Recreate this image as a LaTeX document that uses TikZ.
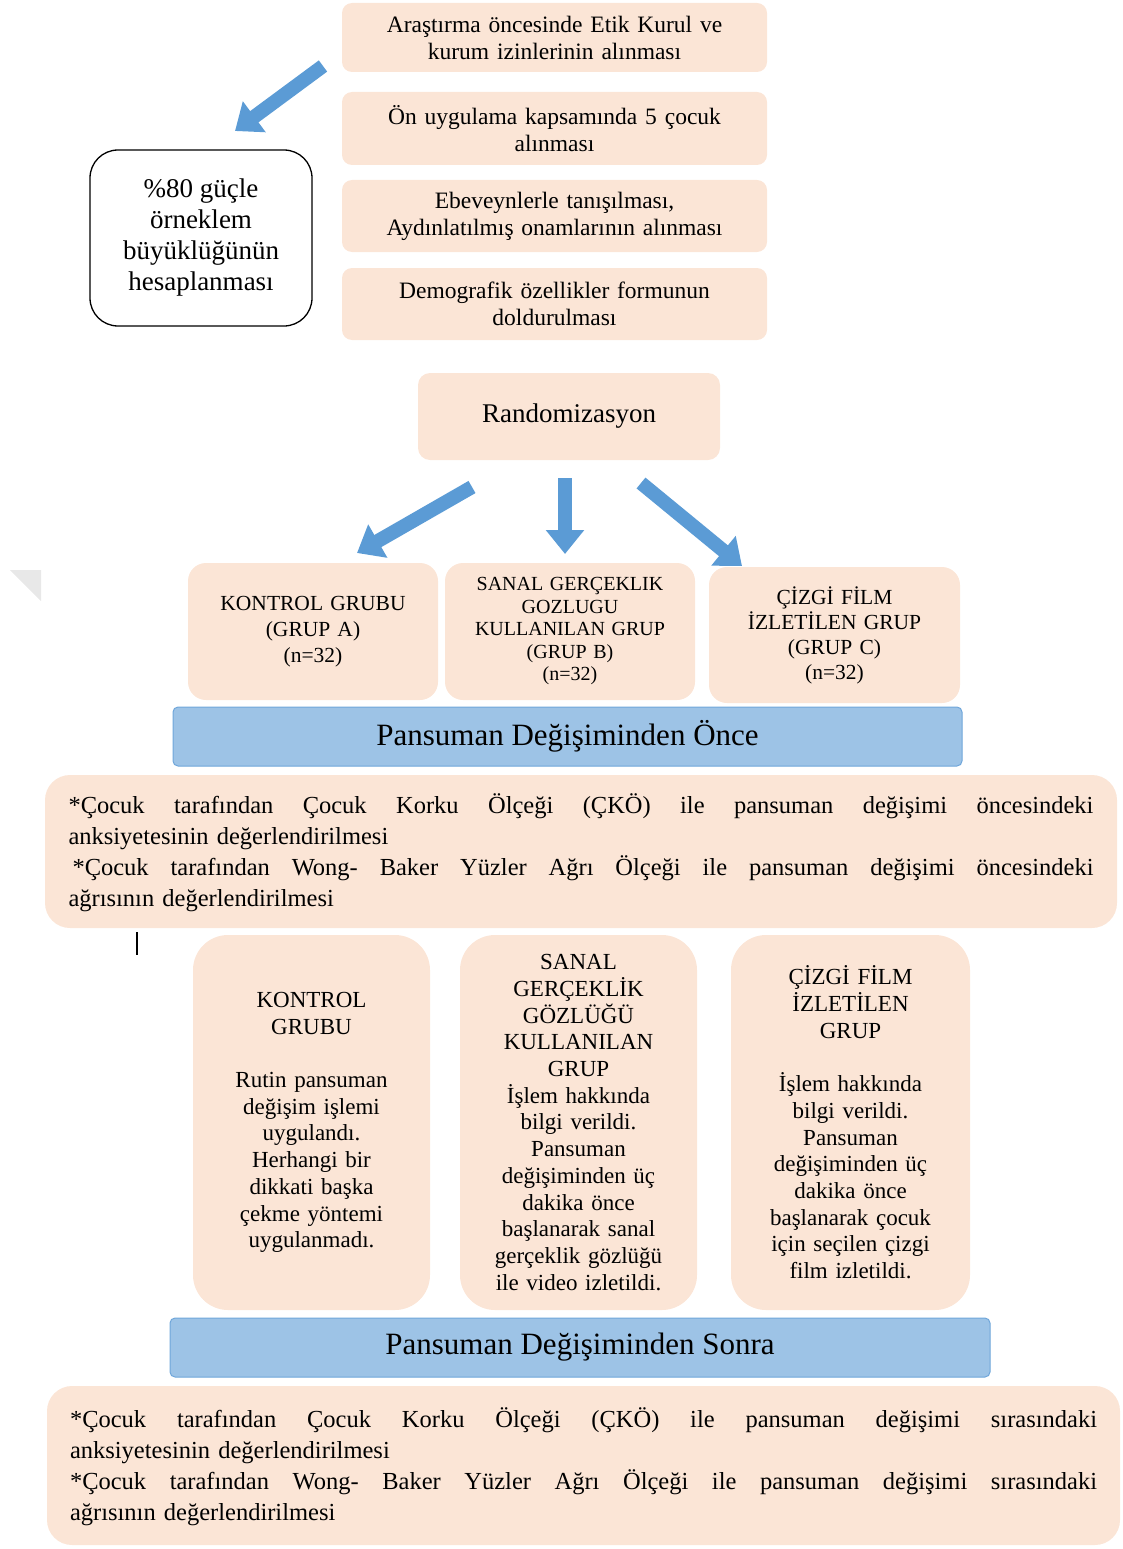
\documentclass[tikz,border=0pt]{standalone}
\usepackage{fontspec}
\setmainfont{Liberation Serif}
\usetikzlibrary{arrows.meta}
\definecolor{peach}{HTML}{FBE5D6}
\definecolor{arrowblue}{HTML}{5B9BD5}
\definecolor{barblue}{HTML}{9DC3E6}
\definecolor{barline}{HTML}{6FA6DA}
\newcommand\myfs[2]{\fontsize{#1}{#2}\selectfont}
\newcommand\fullline[2]{\makebox[#1][s]{\spaceskip=0pt\xspaceskip=0pt\relax #2}}
\begin{document}
\begin{tikzpicture}[x=1pt,y=-1pt,
  peachbox/.style={fill=peach, draw=none, align=center, inner sep=0pt},
  stepbox/.style={peachbox, minimum width=425pt, rounded corners=10pt, text width=410pt, font=\myfs{23.5}{27}},
  grpbox/.style={peachbox, minimum height=137pt, rounded corners=18pt, text width=240pt},
  colbox/.style={peachbox, minimum height=375pt, rounded corners=35pt, text width=225pt, font=\myfs{23}{26.7}},
  barbox/.style={fill=barblue, draw=barline, line width=1pt, rounded corners=5pt, minimum height=59pt, inner sep=0pt, font=\myfs{31}{36}},
  bigbox/.style={peachbox, rounded corners=25pt},
  bigtext/.style={align=left, inner sep=0pt, font=\myfs{24.5}{31}},
  bluearrow/.style={draw=arrowblue, line width=14pt, -{Triangle[width=37pt,length=24pt]}},
]
\useasboundingbox (0,0) rectangle (1123,1549);

% top steps
\node[stepbox, minimum height=69pt] (s1) at (554.5,37.5) {Araştırma öncesinde Etik Kurul ve\\kurum izinlerinin alınması};
\node[stepbox, minimum height=73pt] (s2) at (554.5,128.5) {Ön uygulama kapsamında 5 çocuk\\alınması};
\node[stepbox, minimum height=72pt] (s3) at (554.5,216) {Ebeveynlerle tanışılması,\\Aydınlatılmış onamlarının alınması};
\node[stepbox, minimum height=72pt] (s4) at (554.5,304) {Demografik özellikler formunun\\doldurulması};

% sample size box
\node[draw=black, line width=1.3pt, fill=white, rounded corners=28pt, minimum width=222pt, minimum height=176pt,
      align=center, inner sep=0pt, font=\myfs{27}{31}] (power) at (201,238)
      {\%80 güçle\\örneklem\\büyüklüğünün\\hesaplanması};

\coordinate (a0t) at (323,66);
\coordinate (a0h) at (235,131);
\draw[bluearrow] (a0t) -- (a0h);

% randomization
\node[peachbox, minimum width=302pt, minimum height=87pt, rounded corners=12pt, font=\myfs{27}{31}] (rand) at (569,416.5) {Randomizasyon};

\coordinate (a1t) at (472,487);
\coordinate (a1h) at (357,553);
\coordinate (a2t) at (565,478);
\coordinate (a2h) at (565,554);
\coordinate (a3t) at (641,483);
\coordinate (a3h) at (742,566);
\draw[bluearrow] (a1t) -- (a1h);
\draw[bluearrow] (a2t) -- (a2h);
\draw[bluearrow] (a3t) -- (a3h);

% groups
\node[grpbox, minimum width=250pt, font=\myfs{21.5}{26}] (ga) at (313,631.5) {\raisebox{-3pt}{\parbox{240pt}{\centering KONTROL GRUBU\\(GRUP A)\\(n=32)}}};
\node[grpbox, minimum width=250pt, font=\myfs{20}{22.5}] (gb) at (570,631.5) {SANAL GERÇEKLIK\\GOZLUGU\\KULLANILAN GRUP\\(GRUP B)\\(n=32)};
\node[grpbox, minimum width=251pt, minimum height=136pt, font=\myfs{21.5}{25}] (gc) at (834.5,635) {ÇİZGİ FİLM\\İZLETİLEN GRUP\\(GRUP C)\\(n=32)};

% before bar
\node[barbox, minimum width=789pt] (before) at (567.5,736.5) {Pansuman Değişiminden Önce};

% before assessment
\node[bigbox, minimum width=1072pt, minimum height=153pt] (pre) at (581,851.5) {};
\node[bigtext, text width=1025pt] (pretext) at ([yshift=-1pt]pre.center)
 {\fullline{1025pt}{*Çocuk tarafından Çocuk Korku Ölçeği (ÇKÖ) ile pansuman değişimi öncesindeki}\\
  anksiyetesinin değerlendirilmesi\\
  \fullline{1025pt}{\hspace*{4pt}*Çocuk tarafından Wong- Baker Yüzler Ağrı Ölçeği ile pansuman değişimi öncesindeki}\\
  ağrısının değerlendirilmesi};

% stray marks
\fill[black!9] (10,570) -- (41,570) -- (41,601) -- cycle;
\draw[line width=1.3pt] (137,932) -- (137,955);

% intervention columns
\node[colbox, minimum width=237pt] (ck) at (311.5,1122.5)
 {KONTROL\\GRUBU\\[26.7pt]Rutin pansuman\\değişim işlemi\\uygulandı.\\Herhangi bir\\dikkati başka\\çekme yöntemi\\uygulanmadı.};
\node[colbox, minimum width=237pt] (cs) at (578.5,1122.5)
 {SANAL\\GERÇEKLİK\\GÖZLÜĞÜ\\KULLANILAN\\GRUP\\İşlem hakkında\\bilgi verildi.\\Pansuman\\değişiminden üç\\dakika önce\\başlanarak sanal\\gerçeklik gözlüğü\\ile video izletildi.};
\node[colbox, minimum width=239pt] (cc) at (850.5,1122.5)
 {ÇİZGİ FİLM\\İZLETİLEN\\GRUP\\[26.7pt]İşlem hakkında\\bilgi verildi.\\Pansuman\\değişiminden üç\\dakika önce\\başlanarak çocuk\\için seçilen çizgi\\film izletildi.};

% after bar
\node[barbox, minimum width=820pt] (after) at (580,1347.5) {Pansuman Değişiminden Sonra};

% after assessment
\node[bigbox, minimum width=1073pt, minimum height=159pt] (post) at (583.5,1465.5) {};
\node[bigtext, text width=1027pt] (posttext) at ([yshift=-1pt]post.center)
 {\fullline{1027pt}{*Çocuk tarafından Çocuk Korku Ölçeği (ÇKÖ) ile pansuman değişimi sırasındaki}\\
  anksiyetesinin değerlendirilmesi\\
  \fullline{1027pt}{*Çocuk tarafından Wong- Baker Yüzler Ağrı Ölçeği ile pansuman değişimi sırasındaki}\\
  ağrısının değerlendirilmesi};
\end{tikzpicture}
\end{document}
